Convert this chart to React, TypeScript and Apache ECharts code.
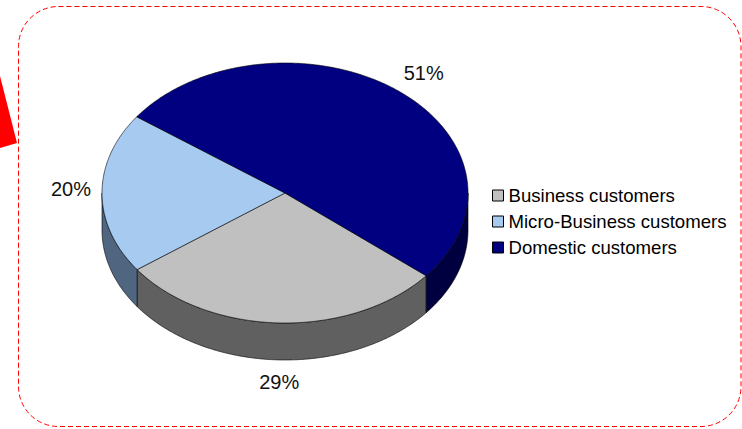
import React, { useEffect, useRef } from "react";
import * as echarts from "echarts";

const categories = ["Business customers", "Micro-Business customers", "Domestic customers"];
const values = [29, 20, 51];
const labels = ["29%", "20%", "51%"];
const topColors = ["#C0C0C0", "#A6CAF0", "#000080"];
const sideColors = ["#606060", "#4F6580", "#000040"];

const CX = 285, CY = 193, RX = 183, RY = 130, DEPTH = 37, START = -39.5;
const FONT = "Liberation Sans, Arial, sans-serif";

const total = values.reduce((a, b) => a + b, 0);
function sliceAngles(i: number): [number, number] {
  let cum = 0;
  for (let k = 0; k < i; k++) cum += values[k];
  const a0 = START - (cum / total) * 360;
  const a1 = a0 - (values[i] / total) * 360;
  return [a1, a0];
}
const rad = (d: number) => (d * Math.PI) / 180;
const pt = (a: number, dy = 0) => [CX + RX * Math.cos(rad(a)), CY - RY * Math.sin(rad(a)) + dy];
const arc = (from: number, to: number, dy = 0) => {
  const steps = Math.max(2, Math.ceil(Math.abs(to - from) / 0.5));
  const out: number[][] = [];
  for (let s = 0; s <= steps; s++) out.push(pt(from + ((to - from) * s) / steps, dy));
  return out;
};

const renderSlice = (i: number) => (params: any, api: any) => {
  const [a1, a0] = sliceAngles(i);
  const children: any[] = [];
  for (let k = -3; k <= 3; k++) {
    const lo = Math.max(a1, -180 + 360 * k);
    const hi = Math.min(a0, 360 * k);
    if (hi > lo + 0.01) {
      const pts = [...arc(hi, lo), ...arc(lo, hi, DEPTH)];
      children.push({
        type: "polygon",
        z2: 1,
        shape: { points: pts },
        style: { fill: sideColors[i], stroke: "#000", lineWidth: 0.6 },
      });
    }
  }
  children.push({
    type: "polygon",
    z2: 2,
    shape: { points: [[CX, CY], ...arc(a0, a1)] },
    style: { fill: api.visual("color"), stroke: "#000", lineWidth: 0.6 },
  });
  const mid = (a0 + a1) / 2;
  const ca = Math.cos(rad(mid));
  const sa = Math.sin(rad(mid));
  children.push({
    type: "text",
    z2: 3,
    x: CX + (RX + 11) * ca,
    y: CY - (RY + 22) * sa + (sa < -0.5 ? DEPTH : 0) + (Math.abs(sa) < 0.3 ? -4 : 0),
    style: {
      text: labels[i],
      fill: "#111",
      fontSize: 20,
      fontFamily: FONT,
      align: ca > 0.35 ? "left" : ca < -0.35 ? "right" : "center",
      verticalAlign: "middle",
    },
  });
  return { type: "group", children };
};

export default function App() {
  const ref = useRef<HTMLDivElement>(null);
  useEffect(() => {
    if (!ref.current) return;
    const chart = echarts.init(ref.current, undefined, { renderer: "svg" });
    chart.setOption({
      animation: false,
      backgroundColor: "#fff",
      legend: {
        orient: "vertical",
        left: 492,
        top: 186,
        padding: 0,
        itemWidth: 11,
        itemHeight: 11,
        itemGap: 7,
        icon: "rect",
        itemStyle: { borderColor: "#000", borderWidth: 1 },
        textStyle: { fontSize: 18.6, fontFamily: FONT, color: "#000" },
        data: categories,
        selectedMode: false,
      },
      graphic: [
        {
          type: "rect",
          shape: { x: 18.5, y: 6.5, width: 722.5, height: 420, r: 40 },
          style: { fill: "none", stroke: "#FF0000", lineWidth: 1, lineDash: [5, 3] },
        },
        {
          type: "polygon",
          shape: { points: [[0, 76], [17, 143], [0, 148]] },
          style: { fill: "#FF0000" },
        },
      ],
      series: categories.map((name, i) => ({
        type: "custom",
        name,
        coordinateSystem: "none",
        data: [[values[i]]],
        itemStyle: { color: topColors[i] },
        renderItem: renderSlice(i),
        silent: true,
      })),
    });
    return () => chart.dispose();
  }, []);
  return (
    <div
      ref={ref}
      style={{ position: "fixed", left: 0, top: 0, width: 742, height: 429 }}
    />
  );
}
